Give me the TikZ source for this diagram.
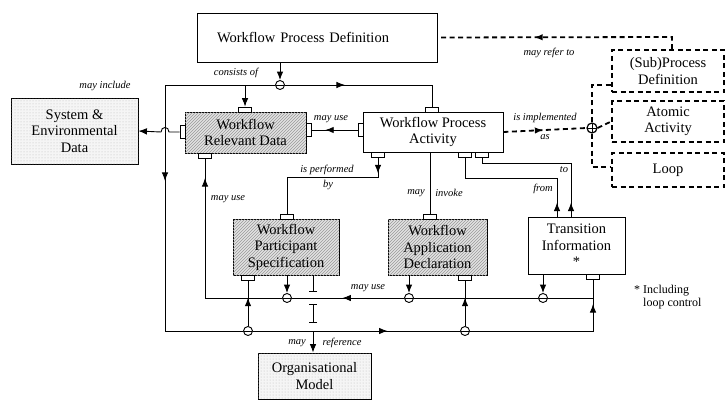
\documentclass[tikz,border=0pt]{standalone}
\usepackage{fontspec}
\setmainfont{Liberation Serif}
\usetikzlibrary{arrows.meta,patterns,decorations.markings}
\begin{document}
\begin{tikzpicture}[x=1pt,y=-1pt,
  >={Latex[length=8.5pt,width=6.5pt]},
  ln/.style={line width=0.9pt},
  dln/.style={line width=1.8pt, dash pattern=on 5pt off 3.5pt},
  marr/.style={postaction={decorate,decoration={markings,mark=at position #1 with {\arrow{>}}}}},
  bx/.style={draw, line width=0.8pt, align=center, inner sep=2pt, font=\fontsize{14.5}{16.5}\selectfont},
  hbx/.style={bx, fill=gray!22, postaction={pattern=north east lines, pattern color=gray!80}},
  dbx/.style={bx, fill=gray!8, postaction={pattern=dots, pattern color=gray!55}},
  dsbx/.style={bx, line width=1.8pt, dash pattern=on 5pt off 3.5pt},
  lbl/.style={font=\fontsize{10.5}{12}\selectfont\itshape, inner sep=1pt},
  port/.style={draw, line width=0.7pt, fill=white, minimum width=13pt, minimum height=5pt, inner sep=0pt},
  vport/.style={port, minimum width=5pt, minimum height=13pt},
  junc/.style={circle, draw, line width=0.9pt, fill=white, minimum size=9pt, inner sep=0pt,
    path picture={\draw[line width=0.6pt] (path picture bounding box.west) -- (path picture bounding box.east);}},
  orj/.style={circle, draw, line width=1.2pt, fill=white, minimum size=10pt, inner sep=0pt,
    path picture={\draw[line width=0.8pt] (path picture bounding box.west) -- (path picture bounding box.east)
      (path picture bounding box.north) -- (path picture bounding box.south);}}
]
\useasboundingbox (0,0) rectangle (727,404);

% ---------- boxes ----------
\node[bx, minimum width=240, minimum height=49, text width=200, align=left, inner xsep=20pt] (wpd) at (317,37.5) {Workflow Process Definition};
\node[dbx, minimum width=127, minimum height=66] (sed) at (74.5,131) {System \&\\Environmental\\Data};
\node[hbx, minimum width=121, minimum height=41] (wrd) at (245.5,132.5) {Workflow\\Relevant Data};
\node[bx, minimum width=140, minimum height=40] (wpa) at (433,132) {Workflow Process\\Activity};
\node[hbx, minimum width=106, minimum height=56] (wps) at (286,247) {Workflow\\Participant\\Specification};
\node[hbx, minimum width=99, minimum height=56] (wad) at (437.5,247) {Workflow\\Application\\Declaration};
\node[bx, minimum width=97, minimum height=57] (ti) at (576.5,245.5) {Transition\\Information\\*};
\node[dbx, minimum width=113, minimum height=46] (om) at (314.5,376) {Organisational\\Model};
\node[dsbx, minimum width=112, minimum height=42] (spd) at (668,71) {(Sub)Process\\Definition};
\node[dsbx, minimum width=112, minimum height=41] (aa) at (668,121.5) {Atomic\\Activity};
\node[dsbx, minimum width=112, minimum height=34] (lp) at (668,170) {Loop};

% ---------- ports ----------
\node[port] (p1) at (245,109.5) {};
\node[port] (p2) at (432,109.5) {};
\node[vport] (p3) at (308.5,130) {};
\node[vport] (p4) at (360.5,130) {};
\node[port] (p5) at (205,155.5) {};
\node[port] (p6) at (378,154.5) {};
\node[port] (p7) at (465,154.5) {};
\node[port] (p8) at (482,154.5) {};
\node[port] (p9) at (287,216.5) {};
\node[port] (p10) at (430,216.5) {};
\node[port] (p11) at (248,277.5) {};
\node[port] (p12) at (465,277.5) {};
\node[port] (p13) at (593,276.5) {};
\node[vport] (p14) at (182.5,132) {};

% ---------- junctions ----------
\node[junc] (j1) at (280,85) {};
\node[orj] (jor) at (592,128) {};
\node[junc] (b1a) at (287,298) {};
\node[junc] (b1b) at (409,298) {};
\node[junc] (b1c) at (543,298) {};
\node[junc] (b2a) at (248,331) {};
\node[junc] (b2b) at (465,331) {};

% ---------- coordinates ----------
\coordinate (tl) at (165,85);
\coordinate (bl) at (165,331);
\coordinate (tr) at (432,85);
\coordinate (tb) at (245,85);
\coordinate (r1) at (593,298);
\coordinate (r2) at (593,331);
\coordinate (l1) at (205,298);
\coordinate (c1) at (378,177);
\coordinate (c2) at (287,177);
\coordinate (f1) at (465,178);
\coordinate (f2) at (557,178);
\coordinate (t1) at (482,163);
\coordinate (t2) at (571,163);
\coordinate (d1) at (672,37);
\coordinate (o1) at (592,85);
\coordinate (o2) at (592,167);
\coordinate (x1) at (313,292);
\coordinate (x2) at (313,304);
\coordinate (x3) at (313,323);
\coordinate (x4) at (313,331);
\coordinate (h1) at (169,132);
\coordinate (h2) at (161,132);

% ---------- connectors ----------
\draw[ln,->] (wpd.south -| j1) -- (j1.north);
\draw[ln, marr=206pt] (j1.west) -- (tl) -- (bl) -- (b2a.west);
\draw[ln, marr=60pt] (j1.east) -- (tr) -- (p2.north);
\draw[ln,->] (tb) -- (p1.north);
\draw[ln,->] (p14.west) -- (h1) .. controls (169,126) and (161,126) .. (h2) -- (sed.east);
\draw[ln, marr=0.7] (p4.west) -- (p3.east);
\draw[ln, marr=16pt] (p6.south) -- (c1) -- (c2) -- (p9.north);
\draw[ln] (wpa.south -| p10) -- (p10.north);
\draw[ln, marr=14pt] (ti.north -| f2) -- (f2) -- (f1) -- (p7.south);
\draw[ln, marr=14pt] (ti.north -| t2) -- (t2) -- (t1) -- (p8.south);
\draw[dln, marr=150pt] (d1 |- spd.north) -- (d1) -- (wpd.east);
\draw[dln, marr=40pt] (wpa.east) -- (jor.west);
\draw[dln] (jor.north) -- (o1) -- (spd.west |- o1);
\draw[dln] (jor.east) -- (aa.west);
\draw[dln] (jor.south) -- (o2) -- (lp.west |- o2);

% bus 1
\draw[ln] (r1) -- (b1c.east);
\draw[ln] (b1c.west) -- (b1b.east);
\draw[ln, marr=0.55] (b1b.west) -- (b1a.east);
\draw[ln, marr=197pt] (b1a.west) -- (l1) -- (p5.south);
\draw[ln,->] (wps.south -| b1a) -- (b1a.north);
\draw[ln,->] (wad.south -| b1b) -- (b1b.north);
\draw[ln,->] (ti.south -| b1c) -- (b1c.north);

% bus 2
\draw[ln, marr=0.65] (b2a.east) -- (b2b.west);
\draw[ln, marr=0.62] (b2a.north) -- (p11.south);
\draw[ln, marr=0.62] (b2b.north) -- (p12.south);
\draw[ln, marr=150pt] (b2b.east) -- (r2) -- (p13.south);

% crossing to organisational model
\draw[ln, -{Bar[width=8pt]}] (wps.south -| x1) -- (x1);
\draw[ln, {Bar[width=8pt]}-{Bar[width=8pt]}] (x2) -- (x3);
\draw[ln, ->] (x4) -- (om.north -| x4);

% ---------- labels ----------
\node[lbl] (lb1) at (236,73) {consists of};
\node[lbl] (lb2) at (105,86) {may include};
\node[lbl] (lb3) at (331,119) {may use};
\node[lbl] (lb4) at (327,170) {is performed};
\node[lbl] (lb5) at (328,185) {by};
\node[lbl] (lb6) at (416,193) {may};
\node[lbl] (lb7) at (449,193) {invoke};
\node[lbl] (lb8) at (543,189) {from};
\node[lbl] (lb9) at (564,170) {to};
\node[lbl] (lb10) at (549,53) {may refer to};
\node[lbl] (lb11) at (545,118) {is implemented};
\node[lbl] (lb12) at (545,137) {as};
\node[lbl] (lb13) at (228,199) {may use};
\node[lbl] (lb14) at (368,288) {may use};
\node[lbl] (lb15) at (297,343) {may};
\node[lbl] (lb16) at (342,343) {reference};
\node[font=\fontsize{12}{13.5}\selectfont, align=left, anchor=west, inner sep=0pt] (note) at (643,297) {\llap{* }Including\\loop control};
\end{tikzpicture}
\end{document}
